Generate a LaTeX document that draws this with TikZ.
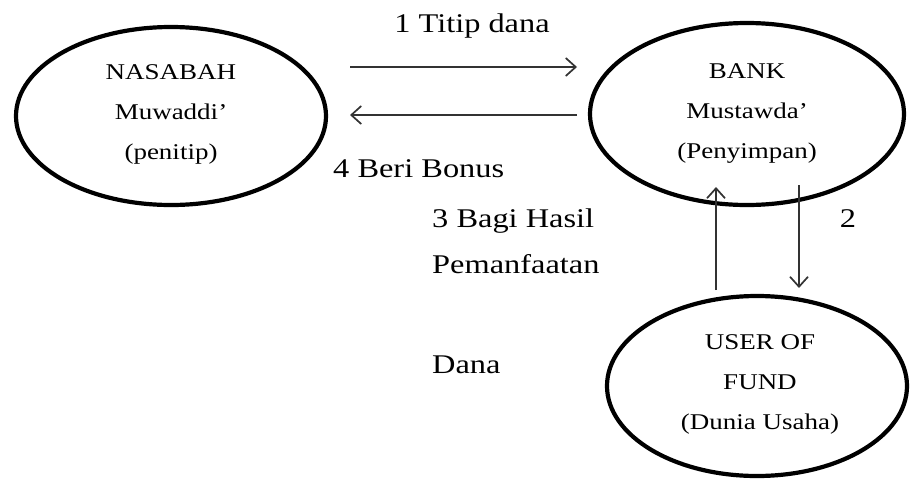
\documentclass[tikz,border=0pt]{standalone}
\usepackage{fontspec}
\setmainfont{Liberation Serif}[FakeStretch=1.2]
\usetikzlibrary{shapes.geometric,arrows.meta}

\begin{document}
\begin{tikzpicture}[x=1pt,y=-1pt,
    pihak/.style={draw,ellipse,line width=4.2pt,inner sep=0pt},
    isi/.style={align=center,font=\fontsize{22.5}{40}\selectfont},
    ket/.style={font=\fontsize{27}{32}\selectfont},
    alur/.style={draw=black!80,line width=1.7pt,-{Straight Barb[length=10pt,width=18pt,line width=1.7pt]}}]
  \useasboundingbox (0,0) rectangle (911,480);
  % tiga pihak
  \node[pihak,minimum width=310,minimum height=178] (nasabah) at (171,116) {};
  \node[pihak,minimum width=314,minimum height=182] (bank) at (747,114) {};
  \node[pihak,minimum width=300,minimum height=180] (user) at (757,386) {};
  \node[isi] (nasabahisi) at (171,114) {NASABAH\\Muwaddi’\\(penitip)};
  \node[isi] (bankisi) at (747,113) {BANK\\Mustawda’\\(Penyimpan)};
  \node[isi] (userisi) at (760,384) {USER OF\\FUND\\(Dunia Usaha)};
  % ujung panah
  \coordinate (titipA) at (350,67);
  \coordinate (titipB) at (577,67);
  \coordinate (bonusA) at (577,115);
  \coordinate (bonusB) at (350,115);
  \coordinate (hasilA) at (716,290);
  \coordinate (hasilB) at (716,187);
  \coordinate (salurA) at (799,185);
  \coordinate (salurB) at (799,288);
  \draw[alur] (titipA) -- (titipB);
  \draw[alur] (bonusA) -- (bonusB);
  \draw[alur] (hasilA) -- (hasilB);
  \draw[alur] (salurA) -- (salurB);
  % keterangan
  \node[ket,anchor=base] (titip) at (472,32) {1 Titip dana};
  \node[ket,anchor=base west,inner sep=0pt] (bonus) at (333,177) {4 Beri Bonus};
  \node[ket,anchor=base west,inner sep=0pt] (bagi) at (432,227) {3 Bagi Hasil};
  \node[ket,anchor=base west,inner sep=0pt] (manfaat) at (432,273) {Pemanfaatan};
  \node[ket,anchor=base west,inner sep=0pt] (dana) at (432,373) {Dana};
  \node[ket,anchor=base] (dua) at (848,227) {2};
\end{tikzpicture}
\end{document}
